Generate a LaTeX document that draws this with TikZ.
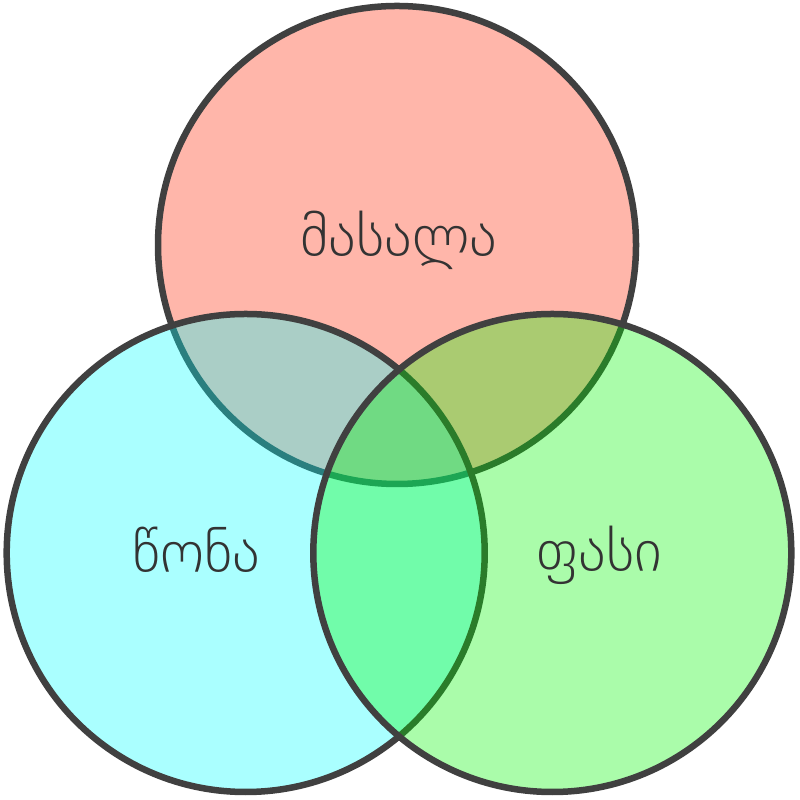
\documentclass[tikz,border=0pt]{standalone}
\usepackage{fontspec}
\IfFontExistsTF{DejaVu Sans ExtraLight}{\newfontfamily\geofont{DejaVu Sans ExtraLight}}{\newfontfamily\geofont{DejaVu Sans}}
\definecolor{edgegray}{HTML}{404040}
\definecolor{textgray}{HTML}{333333}
\definecolor{topfill}{RGB}{255,36,0}
\definecolor{leftfill}{RGB}{0,255,255}
\definecolor{rightfill}{RGB}{0,245,0}
\tikzset{
  venn/.style={circle, draw=edgegray, line width=0.065cm, fill opacity=0.333,
    minimum size=4.78cm, inner sep=0pt, outer sep=0pt},
  lbl/.style={anchor=base, text=textgray, font=\geofont\fontsize{16.8}{20}\selectfont, inner sep=0pt}
}
\begin{document}
\begin{tikzpicture}
\useasboundingbox (0,0) rectangle (8,8);
\node[venn, fill=topfill] (ctop) at (3.97,5.55) {};
\node[venn, fill=leftfill] (cleft) at (2.457,2.47) {};
\node[venn, fill=rightfill] (cright) at (5.523,2.47) {};
\node[lbl] (ltop) at (3.99,5.43) {მასალა};
\node[lbl] (lleft) at (1.965,2.27) {წონა};
\node[lbl] (lright) at (5.99,2.28) {ფასი};
\end{tikzpicture}
\end{document}
